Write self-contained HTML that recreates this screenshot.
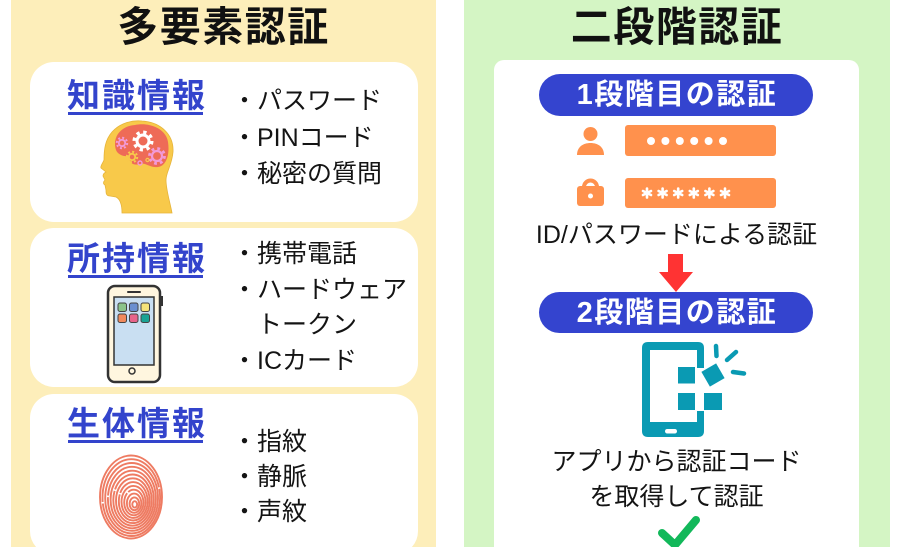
<!DOCTYPE html>
<html><head><meta charset="utf-8">
<style>
html,body{margin:0;padding:0;}
body{width:900px;height:547px;overflow:hidden;position:relative;background:#fff;font-family:"Liberation Sans","Noto Sans CJK JP",sans-serif;color:#141414;}
svg{position:absolute;left:0;top:0;display:block;}
.t{position:absolute;white-space:nowrap;}
.title{font-size:41px;line-height:41px;font-weight:700;letter-spacing:1.5px;text-align:center;color:#111;}
.hd{font-size:33px;line-height:33px;font-weight:700;letter-spacing:2px;color:#3344CC;left:67px;}
.ul{position:absolute;left:68px;width:135px;height:2.5px;background:#3344CC;}
.b{font-size:25px;line-height:25px;left:232px;}
.pill{font-size:29px;line-height:29px;font-weight:700;color:#fff;letter-spacing:1.5px;text-align:center;left:539px;width:276px;}
.r{font-size:25px;line-height:25px;text-align:center;left:494px;width:365px;}
</style></head><body>
<svg width="900" height="547" viewBox="0 0 900 547">
  <!-- panels -->
  <rect x="11" y="0" width="425" height="547" fill="#FDEEBA"/>
  <rect x="464" y="0" width="426" height="547" fill="#D4F5C4"/>
  <!-- left cards -->
  <rect x="30" y="62" width="388" height="160" rx="24" fill="#fff"/>
  <rect x="30" y="228" width="388" height="159" rx="24" fill="#fff"/>
  <path d="M54 394 H394 A24 24 0 0 1 418 418 V531 A24 24 0 0 1 411.9 547 H36.1 A24 24 0 0 1 30 531 V418 A24 24 0 0 1 54 394 Z" fill="#fff"/>
  <!-- right card -->
  <path d="M504 60 H849 A10 10 0 0 1 859 70 V547 H494 V70 A10 10 0 0 1 504 60 Z" fill="#fff"/>

  <!-- head icon -->
  <path d="M122 213 C122 205 120 199 116 197 L110 196 C106 196 106 193 106 190 L105 185 C103 184 103 182 105 180 L103 176 C103 174 104 173 106 172 L101 168 C100 166 103 163 104 160 C104 150 105 140 112 132 C120 123 132 120 142 121 C160 122 174 134 173 152 C172 165 166 172 166 180 C166 190 170 202 172 213 Z" fill="#F8C94A" stroke="#E6B43A" stroke-width="0.8"/>
  <path d="M116 150 C112 138 120 126 135 125 C148 122 166 128 168 142 C170 155 166 166 158 167 C150 168 145 162 140 164 C134 166 128 163 130 156 C124 157 118 155 116 150 Z" fill="#EE6B57"/>
  <g fill="none">
    <circle cx="143" cy="141" r="6" stroke="#fff" stroke-width="3"/>
    <circle cx="143" cy="141" r="8.8" stroke="#fff" stroke-width="3.4" stroke-dasharray="3.3 3.6"/>
    <circle cx="157" cy="156" r="5" stroke="#F29AD8" stroke-width="2.2"/>
    <circle cx="157" cy="156" r="7.5" stroke="#F29AD8" stroke-width="2.8" stroke-dasharray="2.8 3.1"/>
    <circle cx="122" cy="143" r="3.2" stroke="#F29AD8" stroke-width="1.8"/>
    <circle cx="122" cy="143" r="5.2" stroke="#F29AD8" stroke-width="2" stroke-dasharray="2 2.08"/>
    <circle cx="132" cy="157" r="3.2" stroke="#F8C94A" stroke-width="1.8"/>
    <circle cx="132" cy="157" r="5.2" stroke="#F8C94A" stroke-width="2" stroke-dasharray="2 2.08"/>
    <circle cx="140" cy="163" r="2" stroke="#F29AD8" stroke-width="1.4"/>
    <circle cx="147.5" cy="160" r="1.6" stroke="#F8C94A" stroke-width="1.2"/>
  </g>

  <!-- phone icon (left) -->
  <rect x="108" y="286" width="52" height="96" rx="7" fill="#FFF6DF" stroke="#333" stroke-width="2.5"/>
  <rect x="160" y="296" width="3" height="10" fill="#333"/>
  <line x1="128" y1="292" x2="140" y2="292" stroke="#333" stroke-width="2" stroke-linecap="round"/>
  <rect x="114" y="297" width="40" height="68" fill="#C9DFF2" stroke="#333" stroke-width="1.5"/>
  <g stroke="#444" stroke-width="1">
    <rect x="118" y="303" width="8.5" height="8.5" rx="2" fill="#8BC48A"/>
    <rect x="129.5" y="303" width="8.5" height="8.5" rx="2" fill="#6A8FD0"/>
    <rect x="141" y="303" width="8.5" height="8.5" rx="2" fill="#F5E47A"/>
    <rect x="118" y="314" width="8.5" height="8.5" rx="2" fill="#F08A5D"/>
    <rect x="129.5" y="314" width="8.5" height="8.5" rx="2" fill="#E7648A"/>
    <rect x="141" y="314" width="8.5" height="8.5" rx="2" fill="#19A394"/>
  </g>
  <circle cx="132" cy="371" r="3" fill="none" stroke="#333" stroke-width="1.5"/>

  <!-- fingerprint -->
  <g fill="none" stroke="#EE7B62" stroke-width="1.9">
    <ellipse cx="134.7" cy="504.4" rx="2.4" ry="3.2"/>
    <ellipse cx="134.4" cy="503.8" rx="4.8" ry="6.4"/>
    <ellipse cx="134.1" cy="503.2" rx="7.2" ry="9.6"/>
    <ellipse cx="133.8" cy="502.5" rx="9.6" ry="12.8" stroke-dasharray="45 1.5"/>
    <ellipse cx="133.5" cy="501.9" rx="12" ry="16"/>
    <ellipse cx="133.2" cy="501.3" rx="14.4" ry="19.2" stroke-dasharray="60 1.5"/>
    <ellipse cx="132.8" cy="500.7" rx="16.8" ry="22.4"/>
    <ellipse cx="132.5" cy="500.1" rx="19.2" ry="25.6" stroke-dasharray="80 1.5"/>
    <ellipse cx="132.2" cy="499.5" rx="21.6" ry="28.8"/>
    <ellipse cx="131.9" cy="498.8" rx="24" ry="32" stroke-dasharray="90 1.5"/>
    <ellipse cx="131.6" cy="498.2" rx="26.4" ry="35.2"/>
    <ellipse cx="131.3" cy="497.6" rx="28.8" ry="38.4" stroke-dasharray="100 1.5"/>
    <ellipse cx="131" cy="497" rx="31" ry="41.5"/>
  </g>

  <!-- pills -->
  <rect x="539" y="74" width="274" height="42" rx="21" fill="#3444CF"/>
  <rect x="539" y="292" width="274" height="41" rx="20.5" fill="#3444CF"/>

  <!-- user icon -->
  <circle cx="590.5" cy="134" r="7" fill="#FF914D"/>
  <path d="M577 155 C577 147 583 143 590.5 143 C598 143 604 147 604 155 Z" fill="#FF914D"/>
  <!-- field 1 -->
  <rect x="625" y="125" width="151" height="31" rx="3" fill="#FF914D"/>
  <g fill="#fff">
    <circle cx="651" cy="141" r="4"/><circle cx="665.4" cy="141" r="4"/><circle cx="679.8" cy="141" r="4"/>
    <circle cx="694.2" cy="141" r="4"/><circle cx="708.6" cy="141" r="4"/><circle cx="723" cy="141" r="4"/>
  </g>
  <!-- lock icon -->
  <path d="M584 189 V187 A6.5 6.5 0 0 1 597 187 V189" fill="none" stroke="#FF914D" stroke-width="4"/>
  <rect x="577" y="186" width="27" height="20" rx="3" fill="#FF914D"/>
  <circle cx="590.5" cy="196" r="2.5" fill="#fff"/>
  <!-- field 2 -->
  <rect x="625" y="178" width="151" height="30" rx="3" fill="#FF914D"/>
  <g stroke="#fff" stroke-width="2.6" stroke-linecap="round">
    <path d="M647 188.5 V197.5 M643 191 L651 195 M643 195 L651 191"/>
    <path d="M662.6 188.5 V197.5 M658.6 191 L666.6 195 M658.6 195 L666.6 191"/>
    <path d="M678.2 188.5 V197.5 M674.2 191 L682.2 195 M674.2 195 L682.2 191"/>
    <path d="M693.8 188.5 V197.5 M689.8 191 L697.8 195 M689.8 195 L697.8 191"/>
    <path d="M709.4 188.5 V197.5 M705.4 191 L713.4 195 M705.4 195 L713.4 191"/>
    <path d="M725 188.5 V197.5 M721 191 L729 195 M721 195 L729 191"/>
  </g>

  <!-- red arrow -->
  <rect x="668" y="254" width="15" height="19" fill="#FF3333"/>
  <polygon points="659,272 693,272 676,292" fill="#FF3333"/>

  <!-- teal phone icon -->
  <path fill-rule="evenodd" d="M648 342 H698 Q704 342 704 348 V431 Q704 437 698 437 H648 Q642 437 642 431 V348 Q642 342 648 342 Z M650 350 H697 V422 H650 Z" fill="#0A9AB3"/>
  <rect x="696" y="368" width="8.5" height="43" fill="#fff"/>
  <rect x="665" y="429" width="12" height="4.5" rx="2.2" fill="#fff"/>
  <g fill="#0A9AB3">
    <rect x="678" y="367" width="17" height="16.5"/>
    <rect x="678" y="393" width="17" height="17"/>
    <rect x="704" y="393" width="18" height="17"/>
    <rect x="704.5" y="366.5" width="17" height="17" transform="rotate(-30 713 375)"/>
  </g>
  <g stroke="#0A9AB3" stroke-width="4.5" stroke-linecap="round">
    <line x1="716" y1="346" x2="716.5" y2="356"/>
    <line x1="727" y1="360" x2="736" y2="352"/>
    <line x1="733" y1="372" x2="744" y2="373.5"/>
  </g>

  <!-- check -->
  <polyline points="662,533 675,545 696,520" fill="none" stroke="#12B85A" stroke-width="8" stroke-linecap="round" stroke-linejoin="round"/>
</svg>

<!-- titles -->
<div class="t title" style="left:11px;width:425px;top:7px;">多要素認証</div>
<div class="t title" style="left:464px;width:426px;top:7px;">二段階認証</div>

<!-- card 1 -->
<div class="t hd" style="top:79px;">知識情報</div>
<div class="ul" style="top:112px;"></div>
<div class="t b" style="top:89px;">・パスワード</div>
<div class="t b" style="top:126px;">・PINコード</div>
<div class="t b" style="top:162px;">・秘密の質問</div>

<!-- card 2 -->
<div class="t hd" style="top:242px;">所持情報</div>
<div class="ul" style="top:275px;"></div>
<div class="t b" style="top:242px;">・携帯電話</div>
<div class="t b" style="top:278px;">・ハードウェア</div>
<div class="t b" style="top:313px;left:257px;">トークン</div>
<div class="t b" style="top:349px;">・ICカード</div>

<!-- card 3 -->
<div class="t hd" style="top:407px;">生体情報</div>
<div class="ul" style="top:440px;"></div>
<div class="t b" style="top:430px;">・指紋</div>
<div class="t b" style="top:465px;">・静脈</div>
<div class="t b" style="top:500px;">・声紋</div>

<!-- right -->
<div class="t pill" style="top:81px;">1段階目の認証</div>
<div class="t r" style="top:223px;">ID/パスワードによる認証</div>
<div class="t pill" style="top:299px;">2段階目の認証</div>
<div class="t r" style="top:450px;">アプリから認証コード</div>
<div class="t r" style="top:485px;">を取得して認証</div>
</body></html>
